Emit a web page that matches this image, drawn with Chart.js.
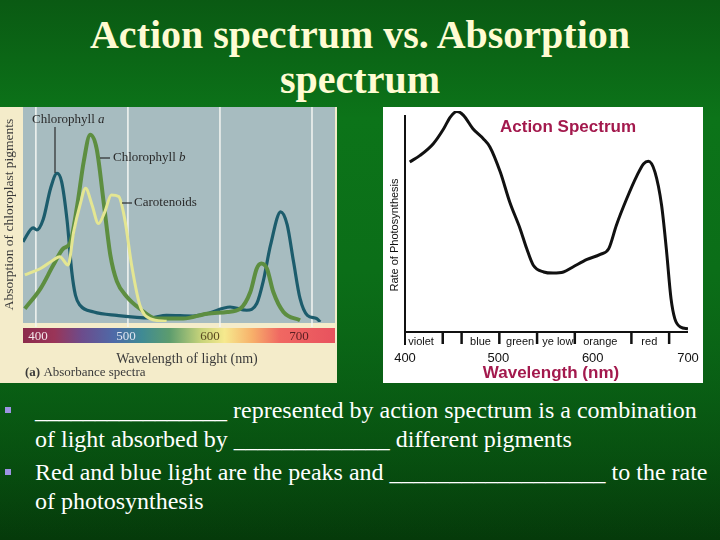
<!DOCTYPE html>
<html>
<head>
<meta charset="utf-8">
<script src="https://cdn.jsdelivr.net/npm/chart.js@4.4.0/dist/chart.umd.min.js"></script>
<style>
  html, body { margin: 0; padding: 0; }
  body {
    width: 720px; height: 540px; overflow: hidden; position: relative;
    background: linear-gradient(180deg, #0a5a13 0%, #0c7419 22%, #0b6e18 50%, #08561200 100%), linear-gradient(180deg, #0b6a17 0%, #074a0f 70%, #053a0a 100%);
    font-family: "Liberation Serif", "Times New Roman", serif;
  }
  .title {
    position: absolute; left: 0; width: 720px; text-align: center;
    color: #fffbd2; font-weight: bold; font-size: 40px; line-height: 45px;
    top: 12px;
  }
  canvas { position: absolute; }
  #absorb { left: 0; top: 107px; }
  #action { left: 383px; top: 107px; }
  .line {
    position: absolute; left: 35px; color: #fff; font-size: 24px; line-height: 28px; white-space: nowrap;
  }
  .bullet { position: absolute; left: 5px; width: 6px; height: 6px; background: #9d93e3; }
</style>
</head>
<body>
<div class="title">Action spectrum vs. Absorption<br>spectrum</div>
<canvas id="absorb" width="337" height="276"></canvas>
<canvas id="action" width="320" height="276"></canvas>

<div class="bullet" style="top:407px"></div>
<div class="bullet" style="top:469px"></div>
<div class="line" style="top:396px">________________ represented by action spectrum is a combination</div>
<div class="line" style="top:425px">of light absorbed by _____________ different pigments</div>
<div class="line" style="top:458px">Red and blue light are the peaks and __________________ to the rate</div>
<div class="line" style="top:487px">of photosynthesis</div>

<script>
// absorbance spectra (left picture)
const chlAWavelengths = [386, 397, 401, 408, 416, 423, 428, 434, 439, 443, 448, 463, 488, 524, 542, 571, 586, 611, 629, 640, 647, 655, 666, 673, 680, 687, 695, 705, 709];
const chlAValues = [0.375, 0.44, 0.43, 0.48, 0.625, 0.695, 0.655, 0.47, 0.235, 0.125, 0.078, 0.047, 0.031, 0.019, 0.031, 0.028, 0.039, 0.07, 0.055, 0.086, 0.19, 0.36, 0.515, 0.455, 0.28, 0.11, 0.031, 0.016, 0.0];

const chlBWavelengths = [388, 405, 419, 430, 437, 445, 452, 459, 466, 474, 481, 488, 499, 513, 531, 560, 586, 608, 622, 633, 640, 645, 651, 658, 669, 687];
const chlBValues = [0.062, 0.156, 0.266, 0.344, 0.367, 0.547, 0.75, 0.875, 0.81, 0.547, 0.31, 0.19, 0.117, 0.062, 0.016, 0.016, 0.039, 0.047, 0.062, 0.14, 0.25, 0.273, 0.25, 0.14, 0.047, 0.008];

const carWavelengths = [388, 405, 419, 426, 435, 441, 448, 454, 461, 468, 475, 482, 490, 497, 504, 513, 524, 542];
const carValues = [0.22, 0.25, 0.29, 0.305, 0.266, 0.42, 0.547, 0.625, 0.547, 0.46, 0.516, 0.594, 0.586, 0.47, 0.266, 0.078, 0.016, 0.003];

const absorbGrid = [400, 500, 600, 700];

// action spectrum (right picture)
const actionWavelengths = [405, 416, 430, 441, 448, 455, 462, 472, 483, 490, 501, 511, 522, 529, 536, 547, 557, 568, 578, 593, 607, 616, 624, 635, 646, 653, 658, 665, 672, 677, 682, 686, 692, 700];
const actionValues = [0.785, 0.815, 0.869, 0.938, 0.992, 1.018, 1.0, 0.938, 0.892, 0.854, 0.738, 0.6, 0.477, 0.385, 0.308, 0.277, 0.272, 0.277, 0.3, 0.335, 0.358, 0.385, 0.492, 0.615, 0.723, 0.777, 0.788, 0.738, 0.585, 0.385, 0.154, 0.062, 0.023, 0.015];

const actionTicks = [400, 500, 600, 700];
const actionTickPos = [400, 499, 599, 700];
const bandTicks = [440, 460, 500, 540, 580, 640, 680];
const colourNames = ['violet', 'blue', 'green', 'ye low', 'orange', 'red'];
const colourNamePos = [417, 480, 522, 562, 607, 659];

function pts(xs, ys) { return xs.map((x, i) => ({ x: x, y: ys[i] })); }

const absorbPlugin = {
  id: 'absorbDecor',
  beforeDraw(chart) {
    const ctx = chart.ctx;
    const a = chart.chartArea;
    const xs = chart.scales.x;
    ctx.save();
    ctx.fillStyle = '#f4ecca';
    ctx.fillRect(0, 0, chart.width, chart.height);
    ctx.fillStyle = '#a7bcc0';
    ctx.fillRect(a.left, 0, a.right - a.left, a.bottom + 1);
    // grid lines
    ctx.strokeStyle = '#f4f6f2';
    ctx.lineWidth = 1.5;
    absorbGrid.forEach(v => {
      const x = xs.getPixelForValue(v);
      ctx.beginPath(); ctx.moveTo(x, 0); ctx.lineTo(x, a.bottom + 5); ctx.stroke();
    });
    // spectrum band
    const bandTop = a.bottom + 6, bandH = 15;
    const g = ctx.createLinearGradient(a.left, 0, a.right, 0);
    const stops = [[386, '#8c2b4c'], [420, '#9a3558'], [450, '#6c4c8c'], [485, '#4e6aa8'], [515, '#3f8a94'], [545, '#5c9c6e'], [580, '#c8d47a'], [605, '#f6e98e'], [635, '#f7b06a'], [665, '#f06862'], [725, '#e8525e']];
    stops.forEach(s => {
      const f = (xs.getPixelForValue(s[0]) - a.left) / (a.right - a.left);
      g.addColorStop(Math.min(1, Math.max(0, f)), s[1]);
    });
    ctx.fillStyle = g;
    ctx.fillRect(a.left, bandTop, a.right - a.left, bandH);
    ctx.font = '13px "Liberation Serif"';
    ctx.textBaseline = 'middle';
    ctx.textAlign = 'center';
    const off = [2, -2, -10, -13];
    const cols = ['#f4e6ea', '#dfe4f0', '#5a4a20', '#5a1e22'];
    absorbGrid.forEach((v, i) => {
      ctx.fillStyle = cols[i];
      ctx.fillText(String(v), xs.getPixelForValue(v) + off[i], bandTop + bandH / 2 + 1);
    });
    // axis titles
    ctx.fillStyle = '#3a3a3a';
    ctx.font = '14px "Liberation Serif"';
    ctx.fillText('Wavelength of light (nm)', 187, 252);
    ctx.textAlign = 'left';
    ctx.font = 'bold 13px "Liberation Serif"';
    ctx.fillText('(a)', 25, 266);
    const w = ctx.measureText('(a) ').width;
    ctx.font = '13px "Liberation Serif"';
    ctx.fillText('Absorbance spectra', 25 + w, 266);
    ctx.save();
    ctx.translate(9, a.bottom / 2);
    ctx.rotate(-Math.PI / 2);
    ctx.textAlign = 'center';
    ctx.font = '13.5px "Liberation Serif"';
    ctx.fillText('Absorption of chloroplast pigments', 0, 0);
    ctx.restore();
    ctx.restore();
  },
  afterDatasetsDraw(chart) {
    const ctx = chart.ctx;
    ctx.save();
    ctx.fillStyle = '#2a2a2a';
    ctx.strokeStyle = '#2a2a2a';
    ctx.lineWidth = 1.2;
    ctx.textBaseline = 'middle';
    ctx.textAlign = 'left';
    ctx.font = '13px "Liberation Serif"';
    ctx.fillText('Chlorophyll ', 32, 13);
    let w = ctx.measureText('Chlorophyll ').width;
    ctx.font = 'italic 13px "Liberation Serif"';
    ctx.fillText('a', 32 + w, 13);
    ctx.beginPath(); ctx.moveTo(55, 20); ctx.lineTo(55, 66); ctx.stroke();
    ctx.font = '13px "Liberation Serif"';
    ctx.fillText('Chlorophyll ', 113, 51);
    w = ctx.measureText('Chlorophyll ').width;
    ctx.font = 'italic 13px "Liberation Serif"';
    ctx.fillText('b', 113 + w, 51);
    ctx.beginPath(); ctx.moveTo(100, 51); ctx.lineTo(110, 51); ctx.stroke();
    ctx.font = '13px "Liberation Serif"';
    ctx.fillText('Carotenoids', 134, 96);
    ctx.beginPath(); ctx.moveTo(122, 96); ctx.lineTo(132, 96); ctx.stroke();
    ctx.restore();
  }
};

new Chart(document.getElementById('absorb'), {
  type: 'line',
  data: {
    datasets: [
      { label: 'Carotenoids', data: pts(carWavelengths, carValues), borderColor: '#e4e692', borderWidth: 3 },
      { label: 'Chlorophyll b', data: pts(chlBWavelengths, chlBValues), borderColor: '#5d8e40', borderWidth: 4 },
      { label: 'Chlorophyll a', data: pts(chlAWavelengths, chlAValues), borderColor: '#1c5c6c', borderWidth: 3.2 }
    ]
  },
  options: {
    responsive: false,
    animation: false,
    layout: { padding: { left: 23, right: 2, top: 1, bottom: 61 } },
    elements: { point: { radius: 0 }, line: { tension: 0.4, cubicInterpolationMode: 'monotone' } },
    plugins: { legend: { display: false }, tooltip: { enabled: false } },
    scales: {
      x: { type: 'linear', min: 386, max: 725, display: false },
      y: { min: 0, max: 1, display: false }
    }
  },
  plugins: [absorbPlugin]
});

const actionPlugin = {
  id: 'actionDecor',
  beforeDraw(chart) {
    const ctx = chart.ctx;
    ctx.save();
    ctx.fillStyle = '#ffffff';
    ctx.fillRect(0, 0, chart.width, chart.height);
    ctx.restore();
  },
  afterDraw(chart) {
    const ctx = chart.ctx;
    const a = chart.chartArea;
    const xs = chart.scales.x;
    ctx.save();
    ctx.strokeStyle = '#111';
    ctx.fillStyle = '#111';
    ctx.lineWidth = 2;
    ctx.beginPath();
    ctx.moveTo(a.left, 8); ctx.lineTo(a.left, a.bottom + 13);
    ctx.moveTo(a.left, a.bottom); ctx.lineTo(xs.getPixelForValue(700), a.bottom);
    ctx.stroke();
    ctx.lineWidth = 2.5;
    bandTicks.forEach(v => {
      const x = xs.getPixelForValue(v);
      ctx.beginPath(); ctx.moveTo(x, a.bottom); ctx.lineTo(x, a.bottom + 12); ctx.stroke();
    });
    ctx.font = '11px "Liberation Sans"';
    ctx.textAlign = 'center';
    ctx.textBaseline = 'middle';
    colourNames.forEach((n, i) => ctx.fillText(n, xs.getPixelForValue(colourNamePos[i]), a.bottom + 10));
    ctx.font = '13px "Liberation Sans"';
    actionTicks.forEach((v, i) => ctx.fillText(String(v), xs.getPixelForValue(actionTickPos[i]), a.bottom + 26));
    ctx.fillStyle = '#a3194d';
    ctx.font = 'bold 17px "Liberation Sans"';
    ctx.fillText('Wavelength (nm)', 168, a.bottom + 41);
    ctx.fillText('Action Spectrum', 185, 20);
    ctx.fillStyle = '#111';
    ctx.save();
    ctx.translate(12, 128);
    ctx.rotate(-Math.PI / 2);
    ctx.font = '11px "Liberation Sans"';
    ctx.fillText('Rate of Photosynthesis', 0, 0);
    ctx.restore();
    ctx.restore();
  }
};

new Chart(document.getElementById('action'), {
  type: 'line',
  data: {
    datasets: [
      { label: 'Action spectrum', data: pts(actionWavelengths, actionValues), borderColor: '#111', borderWidth: 3 }
    ]
  },
  options: {
    responsive: false,
    animation: false,
    layout: { padding: { left: 22, right: 15, top: 4, bottom: 51 } },
    elements: { point: { radius: 0 }, line: { tension: 0.4, cubicInterpolationMode: 'monotone' } },
    plugins: { legend: { display: false }, tooltip: { enabled: false } },
    scales: {
      x: { type: 'linear', min: 400, max: 700, display: false },
      y: { min: 0, max: 1.02, display: false }
    }
  },
  plugins: [actionPlugin]
});
</script>
</body>
</html>
